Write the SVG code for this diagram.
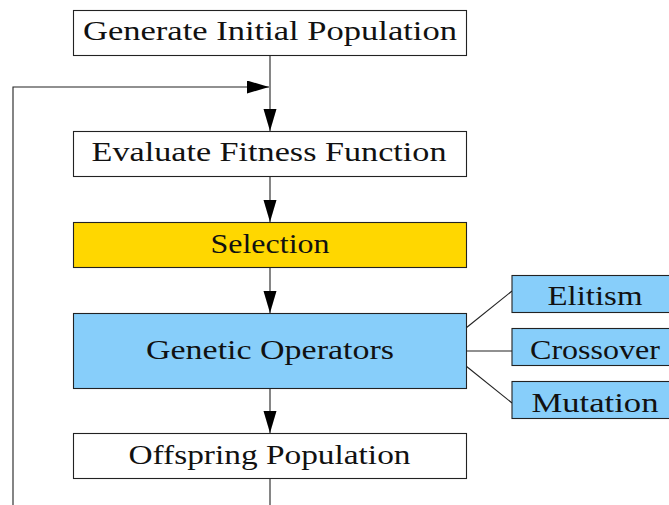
<svg xmlns="http://www.w3.org/2000/svg" width="669" height="505" viewBox="0 0 669 505">
<style>
  .box { stroke: #222; stroke-width: 1.1; }
  .plain { fill: #ffffff; }
  .gold { fill: #FFD700; }
  .blue { fill: #87CEFA; }
  .lbl { font-family: "Liberation Serif", "DejaVu Serif", serif; font-size: 28px; fill: #111; text-anchor: middle; }
  .conn { fill: none; stroke: #222; stroke-width: 1.1; }
</style>
<defs>
  <marker id="arr" markerUnits="userSpaceOnUse" markerWidth="24" markerHeight="14" refX="22" refY="6.5" orient="auto">
    <polygon points="0,0 22,6.5 0,13" fill="#000"/>
  </marker>
</defs>
<rect width="669" height="505" fill="#ffffff"/>
<g id="connectors">
  <line class="conn" x1="270" y1="55" x2="270" y2="131" marker-end="url(#arr)"/>
  <polyline class="conn" points="13,505 13,87 269,87" marker-end="url(#arr)"/>
  <line class="conn" x1="270" y1="177" x2="270" y2="222" marker-end="url(#arr)"/>
  <line class="conn" x1="270" y1="268" x2="270" y2="313" marker-end="url(#arr)"/>
  <line class="conn" x1="270" y1="388" x2="270" y2="433" marker-end="url(#arr)"/>
  <line class="conn" x1="270" y1="479" x2="270" y2="505"/>
  <line class="conn" x1="466" y1="328" x2="512" y2="291"/>
  <line class="conn" x1="466" y1="351" x2="512" y2="351"/>
  <line class="conn" x1="466" y1="366" x2="512" y2="403"/>
</g>
<g id="generate">
  <rect class="box plain" x="73.5" y="10.5" width="393" height="45"/>
  <text class="lbl" x="270" y="39.5" textLength="374" lengthAdjust="spacingAndGlyphs">Generate Initial Population</text>
</g>
<g id="evaluate">
  <rect class="box plain" x="73.5" y="131.5" width="393" height="45"/>
  <text class="lbl" x="269" y="160.5" textLength="355" lengthAdjust="spacingAndGlyphs">Evaluate Fitness Function</text>
</g>
<g id="selection">
  <rect class="box gold" x="73.5" y="222.5" width="393" height="45"/>
  <text class="lbl" x="270" y="252.5" textLength="119" lengthAdjust="spacingAndGlyphs">Selection</text>
</g>
<g id="genetic">
  <rect class="box blue" x="73.5" y="313.5" width="393" height="75"/>
  <text class="lbl" x="270" y="358.5" textLength="248" lengthAdjust="spacingAndGlyphs">Genetic Operators</text>
</g>
<g id="offspring">
  <rect class="box plain" x="73.5" y="433.5" width="393" height="45"/>
  <text class="lbl" x="269.5" y="464" textLength="282" lengthAdjust="spacingAndGlyphs">Offspring Population</text>
</g>
<g id="elitism">
  <rect class="box blue" x="512" y="275.5" width="168" height="37"/>
  <text class="lbl" x="595" y="304.5" textLength="95" lengthAdjust="spacingAndGlyphs">Elitism</text>
</g>
<g id="crossover">
  <rect class="box blue" x="512" y="328.5" width="168" height="37"/>
  <text class="lbl" x="595" y="358.5" textLength="130" lengthAdjust="spacingAndGlyphs">Crossover</text>
</g>
<g id="mutation">
  <rect class="box blue" x="512" y="381.5" width="168" height="37"/>
  <text class="lbl" x="595" y="411.5" textLength="127" lengthAdjust="spacingAndGlyphs">Mutation</text>
</g>
</svg>
